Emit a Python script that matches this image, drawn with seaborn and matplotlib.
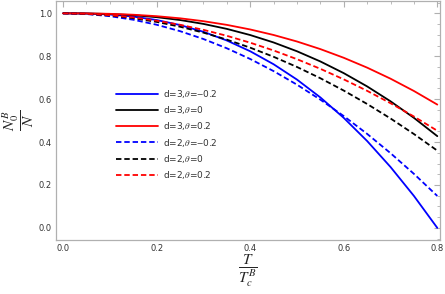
import numpy as np
import pandas as pd
import matplotlib
matplotlib.use("Agg")
import matplotlib.pyplot as plt
from matplotlib.ticker import MultipleLocator
import seaborn as sns

# T / T_c^B sample points
T = [0.0, 0.05, 0.1, 0.15, 0.2, 0.25, 0.3, 0.35, 0.4, 0.45, 0.5, 0.55, 0.6, 0.65, 0.7, 0.75, 0.8]

# N_0^B / N
d3_m02 = [1.0, 0.999, 0.9945, 0.9848, 0.9688, 0.9454, 0.9139, 0.8734, 0.8232, 0.7627, 0.6912, 0.6081, 0.5128, 0.4049, 0.2838, 0.1490, 0.0]
d3_0 = [1.0, 0.9994, 0.9968, 0.9913, 0.9821, 0.9688, 0.9507, 0.9275, 0.8988, 0.8642, 0.8232, 0.7757, 0.7212, 0.6594, 0.5900, 0.5129, 0.4276]
d3_p02 = [1.0, 0.9996, 0.9977, 0.9935, 0.9867, 0.9768, 0.9634, 0.9462, 0.9248, 0.8991, 0.8687, 0.8333, 0.7928, 0.7469, 0.6954, 0.6381, 0.5747]
d2_m02 = [1.0, 0.9967, 0.9867, 0.9701, 0.9468, 0.9169, 0.8803, 0.8371, 0.7872, 0.7307, 0.6675, 0.5977, 0.5212, 0.4381, 0.3483, 0.2519, 0.1488]
d2_0 = [1.0, 0.9975, 0.99, 0.9775, 0.96, 0.9375, 0.91, 0.8775, 0.84, 0.7975, 0.75, 0.6975, 0.64, 0.5775, 0.51, 0.4375, 0.36]
d2_p02 = [1.0, 0.9979, 0.9915, 0.9808, 0.9658, 0.9466, 0.9231, 0.8953, 0.8632, 0.8269, 0.7863, 0.7414, 0.6922, 0.6388, 0.5811, 0.5191, 0.4528]

labels = [r"d=3,$\theta$=$-$0.2", r"d=3,$\theta$=0", r"d=3,$\theta$=0.2",
          r"d=2,$\theta$=$-$0.2", r"d=2,$\theta$=0", r"d=2,$\theta$=0.2"]
series = [d3_m02, d3_0, d3_p02, d2_m02, d2_0, d2_p02]
colors = ["#0000ff", "#000000", "#ff0000", "#0000ff", "#000000", "#ff0000"]
dashed = [False, False, False, True, True, True]

df = pd.concat([pd.DataFrame({"T": T, "N": s, "curve": lab}) for s, lab in zip(series, labels)])

sns.set_style("white")
plt.rcParams["mathtext.fontset"] = "stix"

fig = plt.figure(figsize=(4.45, 2.94), dpi=100)
ax = fig.add_axes([0.126, 0.184, 0.863, 0.813])

sns.lineplot(data=df, x="T", y="N", hue="curve", style="curve",
             palette=dict(zip(labels, colors)),
             dashes={lab: ((3.0, 1.6) if d else "") for lab, d in zip(labels, dashed)},
             linewidth=1.3, ax=ax, legend=True)

ax.set_xlim(-0.015, 0.806)
ax.set_ylim(-0.056, 1.058)
ax.xaxis.set_major_locator(MultipleLocator(0.2))
ax.xaxis.set_minor_locator(MultipleLocator(0.05))
ax.yaxis.set_major_locator(MultipleLocator(0.2))
ax.yaxis.set_minor_locator(MultipleLocator(0.05))
ax.xaxis.set_major_formatter(plt.FuncFormatter(lambda v, p: f"{v:.1f}"))
ax.yaxis.set_major_formatter(plt.FuncFormatter(lambda v, p: f"{v:.1f}"))
ax.tick_params(which="both", direction="in", top=True, right=True,
               color="#b0b0b0", labelsize=6, labelcolor="#333333", pad=3)
ax.tick_params(which="major", length=4, width=0.8)
ax.tick_params(which="minor", length=2, width=0.6)
for sp in ax.spines.values():
    sp.set_color("#b0b0b0")
    sp.set_linewidth(0.9)

ax.set_xlabel(r"$\dfrac{T}{T_c^B}$", fontsize=11, labelpad=0)
ax.set_ylabel(r"$\dfrac{N_0^B}{N}$", fontsize=11, labelpad=2)

leg = ax.legend(loc="upper left", bbox_to_anchor=(0.135, 0.67), frameon=False,
                fontsize=6.5, handlelength=4.6, labelspacing=0.47, handletextpad=0.6)
for txt in leg.get_texts():
    txt.set_color("#333333")

fig.savefig("out.png", dpi=100)
